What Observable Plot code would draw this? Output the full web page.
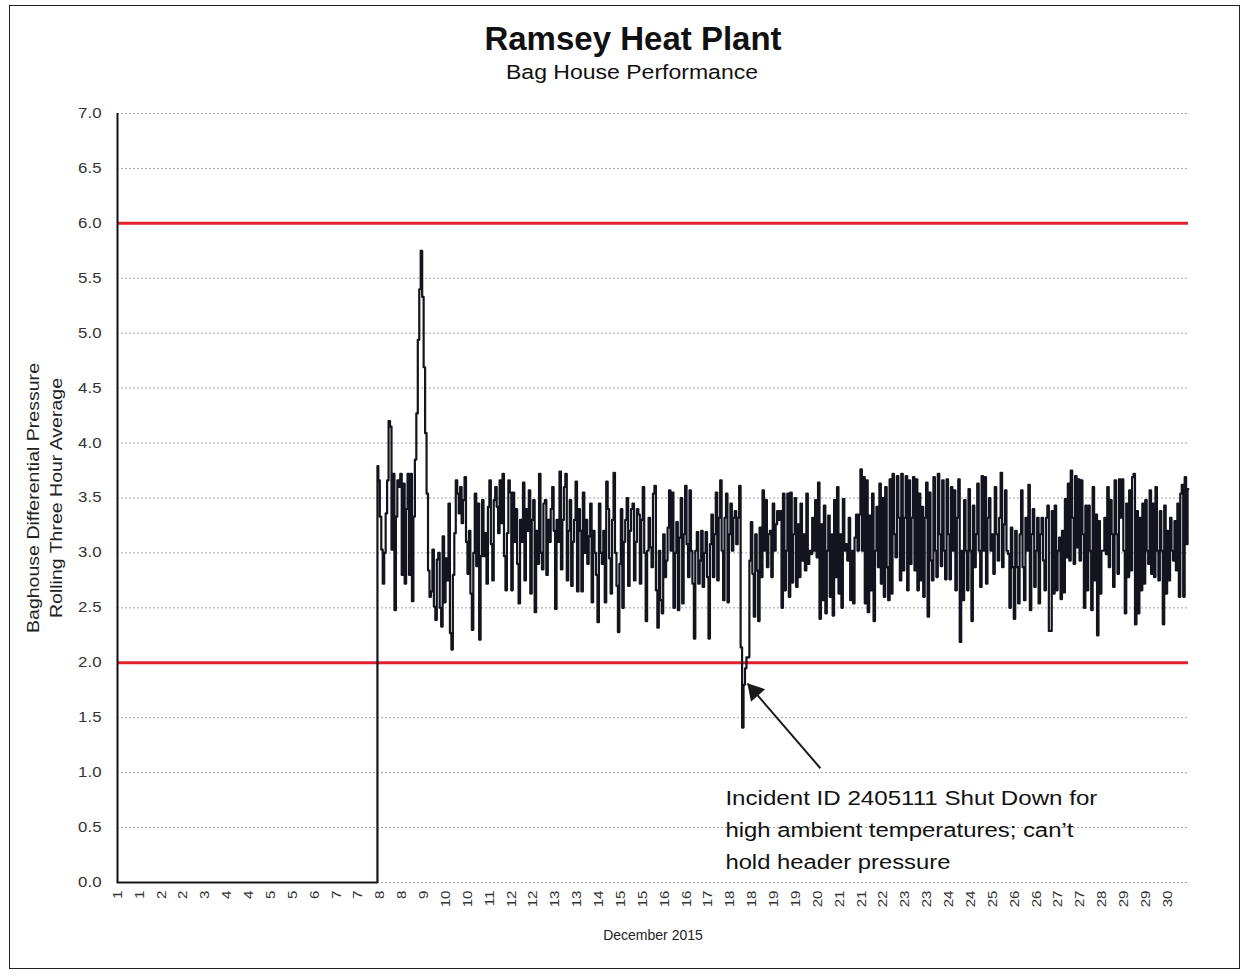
<!DOCTYPE html>
<html>
<head>
<meta charset="utf-8">
<script src="https://cdn.jsdelivr.net/npm/d3@7"></script>
<script src="https://cdn.jsdelivr.net/npm/@observablehq/plot@0.6"></script>
<style>
html, body { margin: 0; padding: 0; background: #fff; overflow: hidden; }
#wrap { position: relative; width: 1247px; height: 976px; }
#border { position: absolute; left: 9px; top: 5px; width: 1231px; height: 964px; border: 1.5px solid #222; box-sizing: border-box; pointer-events: none; }
</style>
</head>
<body>
<div id="wrap"><div id="chart"></div><div id="border"></div></div>
<script>
// ---------- texts ----------
const titleText = "Ramsey Heat Plant";
const subtitleText = "Bag House Performance";
const yTitleLines = ["Baghouse Differential Pressure", "Rolling Three Hour Average"];
const xTitle = "December 2015";
const annotationLines = [
  "Incident ID 2405111 Shut Down for",
  "high ambient temperatures; can\u2019t",
  "hold header pressure"
];

// ---------- axes ----------
const yTicks = [0, 0.5, 1, 1.5, 2, 2.5, 3, 3.5, 4, 4.5, 5, 5.5, 6, 6.5, 7];
const limitLines = [6.0, 2.0];
const tickLabels = ["1","1","2","2","3","4","4","5","5","6","7","7","8","8","9","10","10","11","12","12",
  "13","13","14","15","15","16","16","17","18","18","19","19","20","21","21","22","23","23","24","24",
  "25","26","26","27","27","28","29","29","30"];
const tickStartDay = 1;
const tickStepDays = 0.624;
const dayDomain = [1, 31.55];

// ---------- data (day of December, value) ----------
const offlineDays = [1, 8.41];
const offlineValues = [0, 0];
const seriesStartDay = 8.42;
const hoursPerPoint = 1;
const pressure = [
  3.79,3.66,3.33,3.03,2.72,3.0,3.36,3.66,4.2,4.15,
  3.03,3.72,2.48,3.33,3.66,3.6,3.72,2.8,3.63,2.72,
  3.4,3.72,2.8,3.72,2.56,3.33,3.85,4.27,4.94,5.4,
  5.75,5.33,4.69,4.09,3.54,2.84,2.6,2.65,3.03,2.51,
  2.39,2.94,3.0,2.5,2.33,3.15,2.55,2.95,2.75,3.45,
  2.27,2.12,2.8,3.18,3.66,3.54,3.36,3.6,3.27,3.48,
  3.69,3.1,2.81,3.2,2.63,2.3,3.0,3.54,2.88,3.45,
  2.21,2.97,3.48,2.97,3.18,2.72,3.42,3.66,3.08,2.75,
  3.48,3.6,3.42,3.18,3.66,3.27,3.72,2.97,2.66,3.18,
  3.66,
  3.55,2.66,3.55,3.1,3.4,2.9,2.54,3.3,3.1,3.64,
  2.75,3.4,3.2,3.57,2.63,3.3,3.48,2.46,3.2,2.9,
  3.72,3.0,2.85,3.45,3.48,2.8,3.3,3.1,3.4,3.6,
  3.2,2.49,3.3,3.1,3.74,2.85,3.3,3.6,3.72,2.75,
  3.2,3.48,2.7,3.1,3.3,3.65,2.65,3.4,3.2,2.65,
  3.55,3.0,3.3,2.9,3.15,3.45,2.55,3.2,3.0,2.8,
  2.37,3.45,3.0,2.9,3.2,2.55,3.65,3.4,2.95,2.63,
  3.3,3.73,3.0,2.7,2.28,2.9,3.4,2.5,3.1,3.3,
  3.5,2.7,3.2,3.4,3.45,2.75,3.1,3.4,3.35,2.72,
  3.3,3.6,3.0,
  2.38,3.02,3.32,3.05,2.87,3.54,3.61,2.66,2.32,3.02,
  2.57,2.45,3.17,2.78,2.93,3.23,3.57,3.02,3.55,2.5,
  3.0,3.28,2.48,3.14,3.5,2.54,3.17,3.61,3.08,2.78,
  3.57,3.02,2.72,2.22,3.02,3.19,2.72,2.93,3.2,2.69,
  3.0,3.19,2.78,2.22,3.08,3.35,2.78,3.17,3.55,2.75,
  3.32,3.66,3.02,2.57,3.32,3.54,2.55,3.17,3.45,3.02,
  3.32,3.38,3.08,3.32,3.61,2.14,1.41,1.8,1.95,2.05,
  2.05,2.93,3.28,2.81,2.42,3.17,2.84,2.38,3.23,2.78,
  3.57,3.02,3.48,2.87,3.17,3.2,2.78,3.45,3.02,3.26,
  3.38,3.3,
  3.38,2.5,3.54,2.66,3.02,3.54,2.6,3.55,2.73,3.17,
  3.5,2.69,3.26,2.78,3.45,2.93,3.17,2.84,3.54,2.9,
  3.02,2.99,3.32,3.02,3.48,2.96,3.64,2.4,3.26,2.57,
  3.43,2.45,3.02,3.34,2.6,3.17,2.43,3.48,2.78,3.6,
  2.63,3.17,2.5,3.49,3.02,3.08,2.93,3.32,2.57,3.02,
  2.54,3.14,3.35,3.02,3.35,3.76,3.02,3.69,2.54,3.66,
  2.46,3.34,2.66,3.54,2.38,3.02,3.42,2.87,3.63,2.72,
  3.5,2.6,3.6,2.87,2.57,3.67,2.63,3.72,3.17,2.96,
  3.7,3.32,2.75,3.72,2.84,3.32,3.7,2.66,3.66,2.9,
  3.32,3.69,2.84,
  3.67,2.66,3.54,2.75,3.42,2.6,3.32,3.64,2.42,3.55,
  2.93,2.75,3.69,3.02,2.78,3.72,3.17,2.88,3.66,3.02,
  2.76,3.67,3.17,2.76,3.6,3.02,3.57,2.66,3.32,3.67,
  2.19,3.02,2.57,3.48,3.02,2.66,3.58,3.02,2.38,3.43,
  2.87,3.17,3.63,3.02,2.69,3.7,3.02,3.69,2.72,3.32,
  3.5,3.02,3.17,2.81,3.6,3.17,2.93,3.32,3.73,2.87,
  3.26,3.57,3.02,2.99,2.5,3.23,2.87,2.4,3.2,2.87,
  2.54,3.17,3.57,2.87,2.57,3.32,3.02,3.62,2.48,3.17,
  3.4,2.69,3.02,3.32,2.54,3.17,3.32,2.93,2.66,3.32,
  3.43,2.29,
  2.29,3.38,2.63,3.43,2.66,3.02,3.14,2.58,3.2,2.64,
  3.49,2.96,3.63,2.93,3.75,3.32,2.9,3.7,3.05,3.67,
  2.93,3.66,3.17,2.5,3.43,2.66,3.43,3.02,2.48,3.6,
  2.75,3.35,2.25,3.29,2.63,3.02,3.02,3.32,2.99,3.6,
  2.87,3.48,3.17,2.69,3.66,3.17,2.81,3.67,3.32,3.67,
  3.02,2.45,3.45,2.78,3.57,2.84,3.69,3.72,2.35,3.38,
  2.45,3.32,2.66,3.45,2.72,3.48,3.02,2.9,3.57,2.81,
  3.45,2.78,3.6,3.02,2.75,3.38,3.02,2.35,3.43,2.63,
  3.2,2.75,3.32,3.02,2.93,3.29,2.84,3.45,2.6,3.54,
  3.62,2.6,3.69,3.08,3.58
];

// annotation anchors in data space (day, value)
const annotation = {
  textDay: 18.34, textValue: 0.91,
  tailDay: 21.05, tailValue: 1.04,
  tipDay: 18.97, tipValue: 1.81,
  headDay: 19.17, headValue: 1.74
};

// ---------- build ----------
const series = offlineDays.map((d, i) => ({day: d, value: offlineValues[i]}))
  .concat(pressure.map((v, i) => ({day: seriesStartDay + i * hoursPerPoint / 24, value: v})));
const tickDays = tickLabels.map((_, i) => tickStartDay + i * tickStepDays);
const labelOf = new Map(tickDays.map((d, i) => [d, tickLabels[i]]));

const chart = Plot.plot({
  width: 1247,
  height: 976,
  marginLeft: 117,
  marginRight: 59,
  marginTop: 113,
  marginBottom: 94,
  style: {fontFamily: "'Liberation Sans', Arial, sans-serif", fontSize: "13px", color: "#222", background: "white"},
  x: {domain: dayDomain},
  y: {domain: [0, 7]},
  marks: [
    Plot.ruleY(yTicks, {stroke: "#9a9a9a", strokeWidth: 0.9, strokeDasharray: "2,2"}),
    Plot.axisY({ticks: yTicks, tickFormat: d3.format(".1f"), tickSize: 0, tickPadding: 16, fontSize: 14, color: "#333", label: null}),
    Plot.axisX({ticks: tickDays, tickFormat: d => labelOf.get(d), tickRotate: -90, tickSize: 0, tickPadding: 8, fontSize: 13.5, color: "#333", label: null}),
    Plot.ruleY(limitLines, {stroke: "#e3202c", strokeWidth: 3}),
    Plot.ruleX([dayDomain[0]], {stroke: "#111", strokeWidth: 2}),
    Plot.line(series, {x: "day", y: "value", stroke: "#14141f", strokeWidth: 2.2, curve: "step"}),
    Plot.link([annotation], {x1: "tailDay", y1: "tailValue", x2: "tipDay", y2: "tipValue", stroke: "#1a1a1a", strokeWidth: 2}),
    Plot.dot([annotation], {x: "headDay", y: "headValue", symbol: "triangle", r: 7, fill: "#1a1a1a", stroke: null, rotate: -41}),
    Plot.text([annotation], {x: "textDay", y: "textValue", text: () => annotationLines.join("\n"), textAnchor: "start", lineAnchor: "top", fontSize: 19.5, lineHeight: 1.64, fill: "#111"}),
    Plot.text([titleText], {frameAnchor: "top", dx: -20, dy: -74, lineAnchor: "middle", fontSize: 33, fontWeight: "bold", fill: "#111"}),
    Plot.text([subtitleText], {frameAnchor: "top", dx: -21, dy: -41, lineAnchor: "middle", fontSize: 20.5, fill: "#111"}),
    Plot.text([yTitleLines[0]], {frameAnchor: "left", dx: -84, rotate: -90, textAnchor: "middle", lineAnchor: "middle", fontSize: 16, fill: "#222"}),
    Plot.text([yTitleLines[1]], {frameAnchor: "left", dx: -61, rotate: -90, textAnchor: "middle", lineAnchor: "middle", fontSize: 16, fill: "#222"}),
    Plot.text([xTitle], {frameAnchor: "bottom", dy: 53, lineAnchor: "middle", fontSize: 14, fill: "#222"})
  ]
});

document.getElementById("chart").append(chart);

// widen the glyphs like the scanned original (text stays text)
function stretch(el, len) {
  el.setAttribute("textLength", len.toFixed(1));
  el.setAttribute("lengthAdjust", "spacingAndGlyphs");
}
chart.querySelectorAll('g[aria-label="y-axis tick label"] text').forEach(t => stretch(t, t.getComputedTextLength() * 1.2));
chart.querySelectorAll('g[aria-label="x-axis tick label"] text').forEach(t => stretch(t, t.getComputedTextLength() * 1.12));
const targets = new Map([
  [subtitleText, 252], [yTitleLines[0], 270], [yTitleLines[1], 240],
  [annotationLines[0], 372], [annotationLines[1], 348], [annotationLines[2], 225]
]);
chart.querySelectorAll("text, tspan").forEach(t => {
  if (t.children.length) return;
  const target = targets.get(t.textContent);
  if (target) stretch(t, target);
});
</script>
</body>
</html>
